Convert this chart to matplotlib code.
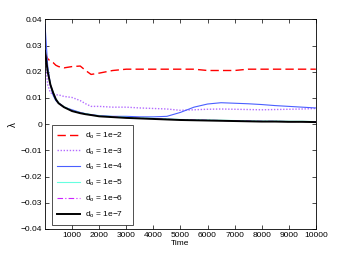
import matplotlib
matplotlib.use("Agg")
import matplotlib.pyplot as plt

time = [0, 50, 100, 200, 300, 400, 500, 700, 1000, 1300, 1500, 1700, 2000, 2500,
        3000, 3500, 4000, 4500, 5000, 5500, 6000, 6500, 7000, 7500, 8000, 8500,
        9000, 9500, 10000]

d_1e2 = [0.027, 0.026, 0.025, 0.024, 0.0235, 0.0225, 0.022, 0.0215, 0.022, 0.0222,
         0.0205, 0.019, 0.0195, 0.0205, 0.021, 0.021, 0.021, 0.021, 0.021, 0.021,
         0.0205, 0.0205, 0.0205, 0.021, 0.021, 0.021, 0.021, 0.021, 0.021]
d_1e3 = [0.028, 0.02, 0.015, 0.012, 0.0115, 0.0112, 0.0112, 0.0106, 0.0102, 0.009,
         0.0078, 0.0068, 0.0068, 0.0065, 0.0065, 0.0062, 0.006, 0.0058, 0.0053, 0.0055,
         0.0057, 0.0058, 0.0057, 0.0056, 0.0055, 0.0056, 0.0057, 0.0058, 0.006]
d_1e4 = [0.038, 0.03, 0.022, 0.015, 0.011, 0.009, 0.008, 0.0065, 0.0055, 0.0045,
         0.004, 0.0035, 0.0033, 0.003, 0.003, 0.0028, 0.0028, 0.003, 0.0045, 0.0065,
         0.0077, 0.0082, 0.008, 0.0078, 0.0075, 0.0071, 0.0068, 0.0065, 0.0062]
d_1e5 = [0.028, 0.024, 0.0202, 0.0152, 0.0122, 0.0097, 0.0082, 0.0067, 0.0052, 0.0044,
         0.004, 0.0037, 0.0032, 0.0029, 0.0026, 0.0024, 0.0022, 0.002, 0.0018, 0.0017,
         0.0016, 0.0015, 0.0014, 0.0013, 0.0012, 0.0012, 0.0011, 0.0011, 0.001]
d_1e6 = [0.028, 0.024, 0.0201, 0.0151, 0.0121, 0.0096, 0.0081, 0.0066, 0.0051, 0.0043,
         0.0039, 0.0036, 0.0031, 0.0028, 0.0025, 0.0023, 0.0021, 0.0019, 0.0017, 0.0016,
         0.0015, 0.0014, 0.0013, 0.0012, 0.0011, 0.0011, 0.001, 0.001, 0.0009]
d_1e7 = [0.028, 0.024, 0.02, 0.015, 0.012, 0.0095, 0.008, 0.0065, 0.005, 0.0042,
         0.0038, 0.0035, 0.003, 0.0027, 0.0024, 0.0022, 0.002, 0.0018, 0.0016, 0.0015,
         0.0014, 0.0013, 0.0012, 0.0011, 0.001, 0.001, 0.0009, 0.0009, 0.0008]

labels = ["d$_o$ = 1e\u22122", "d$_o$ = 1e\u22123", "d$_o$ = 1e\u22124",
          "d$_o$ = 1e\u22125", "d$_o$ = 1e\u22126", "d$_o$ = 1e\u22127"]

xticks = [1000, 2000, 3000, 4000, 5000, 6000, 7000, 8000, 9000, 10000]
yticks = [-0.04, -0.03, -0.02, -0.01, 0, 0.01, 0.02, 0.03, 0.04]
yticklabels = ["\u22120.04", "\u22120.03", "\u22120.02", "\u22120.01", "0",
               "0.01", "0.02", "0.03", "0.04"]

plt.rcParams['font.family'] = ['Liberation Sans', 'DejaVu Sans']
plt.rcParams['mathtext.fontset'] = 'custom'
plt.rcParams['mathtext.rm'] = 'Liberation Sans'
plt.rcParams['mathtext.it'] = 'Liberation Sans'

fig = plt.figure(figsize=(3.49, 2.59), dpi=100)
ax = fig.add_axes([0.129, 0.116, 0.776, 0.809])

styles = [
    dict(color='red', ls=(0, (6, 3)), lw=1.0),
    dict(color='#b36bff', ls=(0, (1, 1.2)), lw=1.0),
    dict(color='#4a5fff', ls='-', lw=0.8),
    dict(color='#66ffe0', ls='-', lw=0.8),
    dict(color='#cc22ff', ls=(0, (5, 2, 1, 2)), lw=0.8),
    dict(color='black', ls='-', lw=1.4),
]
series = [d_1e2, d_1e3, d_1e4, d_1e5, d_1e6, d_1e7]
for s, st, lab in zip(series, styles, labels):
    ax.plot(time, s, label=lab, **st)

ax.set_xlim(0, 10000)
ax.set_ylim(-0.04, 0.04)
ax.set_xticks(xticks)
ax.set_xticklabels([str(t) for t in xticks])
ax.set_yticks(yticks)
ax.set_yticklabels(yticklabels)
ax.tick_params(direction='in', top=True, right=True, labelsize=6, length=3, width=0.5, pad=2)
for sp in ax.spines.values():
    sp.set_linewidth(0.6)
ax.set_xlabel("Time", fontsize=6, labelpad=1)
ax.set_ylabel("\u03bb", fontsize=7, labelpad=2)

leg = ax.legend(loc='lower left', bbox_to_anchor=(0.026, 0.019, 0.30, 0.458), mode='expand',
                fontsize=6, frameon=True, fancybox=False, edgecolor='black',
                handlelength=2.8, labelspacing=0.68, borderpad=0.6, handletextpad=0.6,
                borderaxespad=0.0)
leg.get_frame().set_linewidth(0.6)

fig.savefig("out.png", dpi=100)
